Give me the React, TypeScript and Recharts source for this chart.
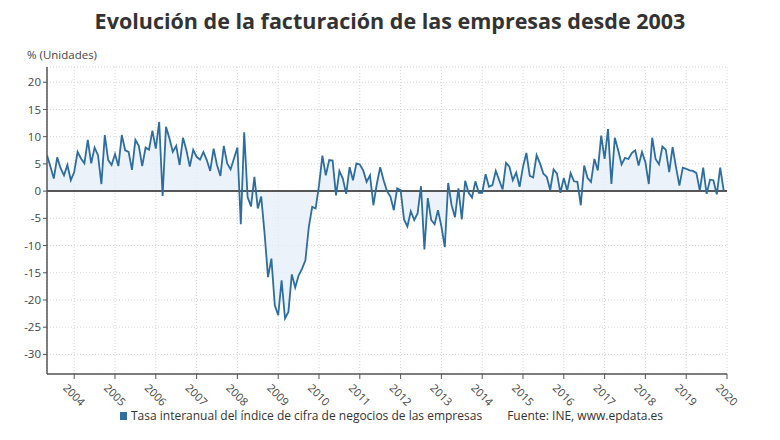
import React from "react";
import {
  ComposedChart,
  Area,
  Line,
  XAxis,
  YAxis,
  CartesianGrid,
  ReferenceLine,
} from "recharts";

// tasa interanual mensual, desde mayo 2003 hasta diciembre 2019
const startYear = 2003;
const startMonth = 4; // mayo (0 = enero)

const values = [
  6.6, 4.5, 2.3, 6.2, 4.2, 2.9, 4.8, 2.0, 3.5, 7.2,
  6.0, 5.1, 9.4, 5.1, 8.0, 6.6, 1.3, 10.3, 5.7, 4.8,
  6.8, 4.6, 10.3, 7.5, 7.2, 3.9, 9.4, 8.3, 4.6, 8.0,
  7.6, 11.1, 7.8, 12.7, -0.9, 11.8, 9.7, 7.2, 8.3, 4.8,
  9.8, 7.5, 4.5, 7.6, 6.3, 5.8, 7.2, 5.7, 3.7, 7.8,
  4.8, 2.8, 8.3, 5.1, 4.0, 6.0, 8.0, -6.1, 10.8, -1.1,
  -2.8, 2.6, -3.2, -1.0, -7.8, -15.8, -12.4, -21.0, -22.8, -16.4,
  -23.4, -22.2, -15.3, -17.7, -15.5, -14.3, -12.7, -6.6, -2.9, -3.2,
  1.0, 6.5, 2.9, 5.7, 5.6, -0.8, 3.7, 2.3, -0.5, 4.4,
  2.0, 5.1, 4.9, 3.8, 1.7, 2.9, -2.6, 1.3, 4.4, 2.0,
  0.0, -1.0, -3.5, 0.5, 0.2, -5.2, -6.5, -3.7, -5.3, -4.1,
  0.9, -10.7, -1.3, -5.3, -6.1, -3.5, -6.5, -10.3, 1.5, -2.6,
  -4.8, 0.5, -5.2, 1.9, -0.3, -1.2, 1.8, -0.3, -0.3, 3.1,
  0.8, 1.1, 3.7, 2.0, 0.3, 5.2, 4.5, 2.0, 3.4, 0.8,
  4.5, 7.0, 2.8, 2.5, 6.6, 5.1, 3.2, 2.6, 0.2, 4.0,
  3.2, -0.3, 2.4, 0.1, 3.3, 1.8, 1.7, -2.6, 4.7, 2.4,
  1.7, 5.9, 3.8, 10.2, 5.9, 11.4, 1.3, 9.8, 7.5, 4.9,
  6.1, 5.9, 7.0, 7.5, 4.7, 7.2, 5.3, 1.3, 9.8, 5.9,
  4.9, 8.2, 7.6, 3.5, 8.1, 4.4, 1.0, 4.3, 4.1, 3.8,
  3.7, 3.3, 0.1, 4.3, -0.5, 2.1, 2.0, -0.6, 4.3, 0.2,
];

const yearTicks = [
  2004, 2005, 2006, 2007, 2008, 2009, 2010, 2011, 2012,
  2013, 2014, 2015, 2016, 2017, 2018, 2019, 2020,
];
const yTicks = [-30, -25, -20, -15, -10, -5, 0, 5, 10, 15, 20];

const data = values.map((v, i) => ({
  t: startYear + (startMonth + i) / 12,
  v,
}));

const FONT = "'Open Sans', 'Noto Sans', sans-serif";
const LINE = "#2d6d9f";

const YearTick = (props: any) => {
  const { x, y, payload } = props;
  return (
    <g transform={`translate(${x - 5},${y + 1})`}>
      <text
        transform="rotate(45)"
        textAnchor="start"
        dominantBaseline="hanging"
        fontSize={11}
        fill="#444"
        fontFamily={FONT}
      >
        {payload.value}
      </text>
    </g>
  );
};

export default function App() {
  return (
    <div
      style={{
        position: "absolute",
        left: 0,
        top: 0,
        width: 780,
        height: 440,
        background: "#fff",
        fontFamily: FONT,
      }}
    >
      <div
        style={{
          position: "absolute",
          top: 6,
          left: 0,
          width: 780,
          textAlign: "center",
          fontSize: 21.5,
          fontWeight: 700,
          color: "#333",
        }}
      >
        Evolución de la facturación de las empresas desde 2003
      </div>
      <div
        style={{
          position: "absolute",
          top: 47,
          left: 27,
          fontSize: 11.5,
          color: "#444",
        }}
      >
        % (Unidades)
      </div>

      <ComposedChart
        width={780}
        height={440}
        data={data}
        margin={{ top: 67, right: 53, bottom: 26, left: 7 }}
      >
        <CartesianGrid stroke="#d6d6d6" strokeDasharray="1 2" />
        <XAxis
          dataKey="t"
          type="number"
          domain={[startYear + startMonth / 12, 2020]}
          ticks={yearTicks}
          interval={0}
          height={40}
          tick={<YearTick />}
          tickSize={5}
          axisLine={{ stroke: "#555", strokeWidth: 1.5 }}
          tickLine={{ stroke: "#555" }}
          allowDataOverflow
        />
        <YAxis
          type="number"
          domain={[-33.6, 22.8]}
          ticks={yTicks}
          interval={0}
          width={40}
          tickSize={4}
          tick={{ fontSize: 11.5, fill: "#444", fontFamily: FONT }}
          axisLine={{ stroke: "#555", strokeWidth: 1.5 }}
          tickLine={{ stroke: "#555" }}
          allowDataOverflow
        />
        <Area
          type="linear"
          dataKey="v"
          baseValue={0}
          stroke="none"
          fill="#e4eef8"
          fillOpacity={0.75}
          isAnimationActive={false}
        />
        <ReferenceLine y={0} stroke="#222" strokeWidth={1.5} />
        <Line
          type="linear"
          dataKey="v"
          stroke={LINE}
          strokeWidth={1.8}
          dot={false}
          isAnimationActive={false}
        />
      </ComposedChart>

      <div
        style={{
          position: "absolute",
          top: 407,
          left: 120,
          fontSize: 12,
          color: "#333",
          display: "flex",
          alignItems: "center",
          whiteSpace: "nowrap",
        }}
      >
        <span
          style={{
            display: "inline-block",
            width: 7,
            height: 8,
            background: LINE,
            marginRight: 4,
          }}
        />
        <span>Tasa interanual del índice de cifra de negocios de las empresas</span>
        <span style={{ marginLeft: 25 }}>Fuente: INE, www.epdata.es</span>
      </div>
    </div>
  );
}
